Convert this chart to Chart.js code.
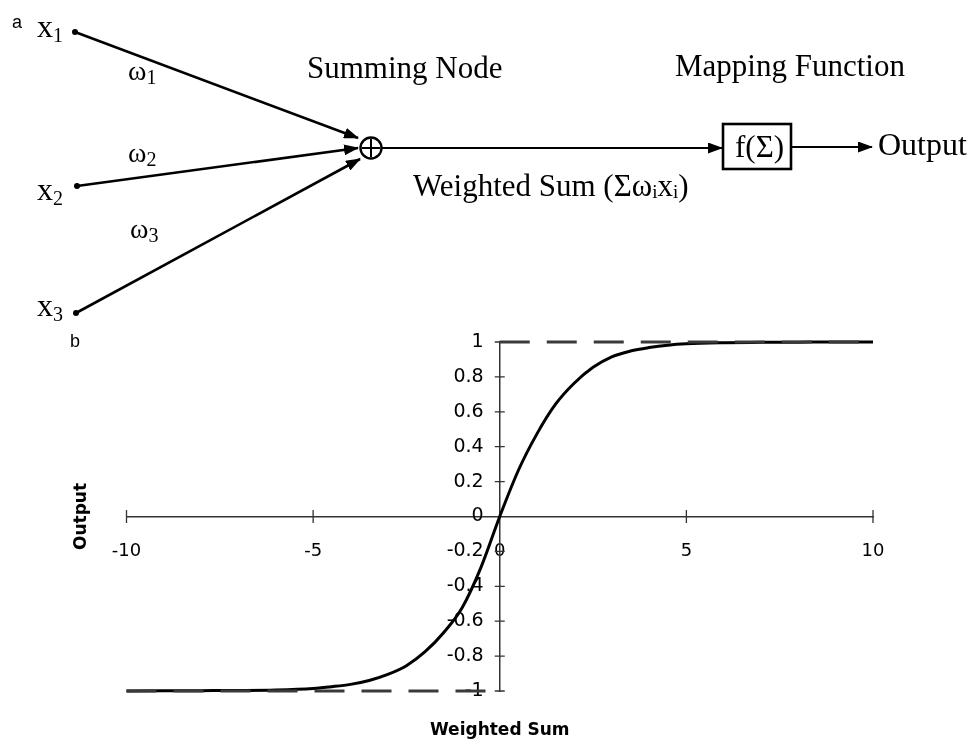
<!DOCTYPE html>
<html>
<head>
<meta charset="utf-8">
<script src="https://cdn.jsdelivr.net/npm/chart.js@4.4.1/dist/chart.umd.min.js"></script>
<style>
  html, body { margin: 0; padding: 0; background: #fff; }
  #wrap { position: relative; width: 969px; height: 744px; overflow: hidden; }
  #chart { position: absolute; left: 0; top: 0; }
  #diagram { position: absolute; left: 0; top: 0; pointer-events: none; }
</style>
</head>
<body>
<div id="wrap">
<canvas id="chart" width="969" height="744"></canvas>
<svg id="diagram" width="969" height="360" xmlns="http://www.w3.org/2000/svg">
  <defs>
    <marker id="ah" markerUnits="userSpaceOnUse" markerWidth="15" markerHeight="11" refX="14" refY="5.5" orient="auto">
      <path d="M0,0 L15,5.5 L0,11 z" fill="#000"/>
    </marker>
  </defs>
  <g stroke="#000" stroke-width="2.6" fill="none">
    <line x1="75" y1="32" x2="358" y2="138" marker-end="url(#ah)"/>
    <line x1="77" y1="186" x2="358" y2="148" marker-end="url(#ah)"/>
    <line x1="76" y1="313" x2="360" y2="159" marker-end="url(#ah)"/>
    <line x1="382" y1="148" x2="722" y2="148" stroke-width="2.2" marker-end="url(#ah)"/>
    <line x1="791" y1="147" x2="872" y2="147" stroke-width="2.2" marker-end="url(#ah)"/>
    <circle cx="371" cy="148" r="10.5" stroke-width="2.4"/>
    <line x1="371" y1="139" x2="371" y2="157" stroke-width="2"/>
    <line x1="362" y1="148" x2="380" y2="148" stroke-width="2"/>
    <rect x="723" y="124" width="68" height="45" stroke-width="2.6"/>
  </g>
  <g fill="#000">
    <circle cx="75" cy="32" r="3"/>
    <circle cx="77" cy="186" r="3"/>
    <circle cx="76" cy="313" r="3"/>
  </g>
  <g font-family="'Liberation Serif', 'Times New Roman', serif" fill="#000">
    <text x="37" y="37" font-size="32">x<tspan font-size="20" dy="5">1</tspan></text>
    <text x="37" y="200" font-size="32">x<tspan font-size="20" dy="5">2</tspan></text>
    <text x="37" y="316" font-size="32">x<tspan font-size="20" dy="5">3</tspan></text>
    <text x="128" y="80" font-size="28">ω<tspan font-size="20" dy="4">1</tspan></text>
    <text x="128" y="162" font-size="28">ω<tspan font-size="20" dy="4">2</tspan></text>
    <text x="130" y="238" font-size="28">ω<tspan font-size="20" dy="4">3</tspan></text>
    <text x="307" y="78" font-size="31">Summing Node</text>
    <text x="675" y="76" font-size="31">Mapping Function</text>
    <text x="413" y="196" font-size="31">Weighted Sum (Σω<tspan font-size="19" dy="2">i</tspan><tspan dy="-2">x</tspan><tspan font-size="19" dy="2">i</tspan><tspan dy="-2">)</tspan></text>
    <text x="735" y="157" font-size="31">f(Σ)</text>
    <text x="878" y="155" font-size="32">Output</text>
  </g>
  <g font-family="'Liberation Sans', Arial, sans-serif" fill="#000" font-size="18">
    <text x="12" y="28">a</text>
    <text x="70" y="347">b</text>
  </g>
</svg>
</div>
<script>
// ---- data ----
const sumValues = [-10, -9, -8, -7, -6, -5, -4.5, -4, -3.5, -3, -2.5, -2, -1.5, -1, -0.5, 0,
                   0.5, 1, 1.5, 2, 2.5, 3, 3.5, 4, 4.5, 5, 6, 7, 8, 9, 10];
const outputValues = [-1.000, -0.999, -0.998, -0.997, -0.994, -0.985, -0.975, -0.962, -0.940, -0.905,
                      -0.855, -0.775, -0.665, -0.520, -0.290, 0.000,
                      0.265, 0.475, 0.645, 0.765, 0.855, 0.915, 0.948, 0.968, 0.982, 0.990,
                      0.996, 0.998, 0.999, 1.000, 1.000];
const upperLimitX = [0, 10];
const upperLimitY = [1, 1];
const lowerLimitX = [-10, 0];
const lowerLimitY = [-1, -1];
const xTickValues = [-10, -5, 0, 5, 10];
const yTickValues = [-1, -0.8, -0.6, -0.4, -0.2, 0, 0.2, 0.4, 0.6, 0.8, 1];
const yTickLabels = ['-1', '-0.8', '-0.6', '-0.4', '-0.2', '0', '0.2', '0.4', '0.6', '0.8', '1'];
const xTitle = 'Weighted Sum';
const yTitle = 'Output';

const toPoints = (xs, ys) => xs.map((x, i) => ({ x: x, y: ys[i] }));

const crossTicks = {
  id: 'crossTicks',
  beforeDatasetsDraw(chart) {
    const { ctx } = chart;
    const xs = chart.scales.x, ys = chart.scales.y;
    const x0 = xs.getPixelForValue(0), y0 = ys.getPixelForValue(0);
    ctx.save();
    ctx.strokeStyle = '#333';
    ctx.lineWidth = 1.3;
    ctx.beginPath();
    xTickValues.forEach(v => {
      if (v === 0) return;
      const px = xs.getPixelForValue(v);
      ctx.moveTo(px, y0 - 6.5); ctx.lineTo(px, y0 + 6.5);
    });
    yTickValues.forEach(v => {
      if (v === 0) return;
      const py = ys.getPixelForValue(v);
      ctx.moveTo(x0 - 5, py); ctx.lineTo(x0 + 5, py);
    });
    ctx.stroke();
    ctx.restore();
  }
};

const axisTitles = {
  id: 'axisTitles',
  afterDraw(chart) {
    const { ctx, chartArea } = chart;
    const xs = chart.scales.x, ys = chart.scales.y;
    ctx.save();
    ctx.fillStyle = '#000';
    ctx.font = 'bold 17px "DejaVu Sans", Arial, sans-serif';
    ctx.textAlign = 'center';
    ctx.textBaseline = 'middle';
    ctx.fillText(xTitle, xs.getPixelForValue(0), chartArea.bottom + 40);
    ctx.translate(chartArea.left - 45, ys.getPixelForValue(0));
    ctx.rotate(-Math.PI / 2);
    ctx.fillText(yTitle, 0, 0);
    ctx.restore();
  }
};

const tickFont = { family: '"DejaVu Sans", Arial, sans-serif', size: 18 };

new Chart(document.getElementById('chart'), {
  type: 'line',
  data: {
    datasets: [
      {
        label: 'Upper limit',
        data: toPoints(upperLimitX, upperLimitY),
        borderColor: '#3a3a3a',
        borderWidth: 3,
        borderDash: [30, 17],
        pointRadius: 0,
        clip: false,
        fill: false
      },
      {
        label: 'Lower limit',
        data: toPoints(lowerLimitX, lowerLimitY),
        borderColor: '#3a3a3a',
        borderWidth: 3,
        borderDash: [30, 17],
        pointRadius: 0,
        clip: false,
        fill: false
      },
      {
        label: 'Output',
        data: toPoints(sumValues, outputValues),
        borderColor: '#000',
        borderWidth: 3,
        pointRadius: 0,
        cubicInterpolationMode: 'monotone',
        clip: false,
        fill: false
      }
    ]
  },
  options: {
    responsive: false,
    animation: false,
    devicePixelRatio: 1,
    layout: { padding: { left: 126.5, right: 96, top: 342, bottom: 53 } },
    plugins: {
      legend: { display: false },
      tooltip: { enabled: false },
      title: { display: false }
    },
    scales: {
      x: {
        type: 'linear',
        position: { y: 0 },
        min: -10,
        max: 10,
        afterFit(scale) { scale.height = 0; },
        afterBuildTicks(scale) { scale.ticks = xTickValues.map(v => ({ value: v })); },
        grid: { display: true, drawOnChartArea: false, drawTicks: false },
        border: { display: true, color: '#333', width: 1.5 },
        ticks: {
          color: '#000',
          padding: 24,
          font: tickFont,
          callback: (v) => String(v)
        }
      },
      y: {
        type: 'linear',
        position: { x: 0 },
        min: -1,
        max: 1,
        afterFit(scale) { scale.width = 0; },
        afterBuildTicks(scale) { scale.ticks = yTickValues.map(v => ({ value: v })); },
        grid: { display: true, drawOnChartArea: false, drawTicks: false },
        border: { display: true, color: '#333', width: 1.5 },
        ticks: { display: false }
      },
      yLabels: {
        type: 'linear',
        position: { x: -0.43 },
        min: -1,
        max: 1,
        afterFit(scale) { scale.width = 0; },
        afterBuildTicks(scale) { scale.ticks = yTickValues.map(v => ({ value: v })); },
        grid: { display: false, drawTicks: false },
        border: { display: false },
        ticks: {
          color: '#000',
          font: { family: '"DejaVu Sans", Arial, sans-serif', size: 19 },
          callback: (v) => yTickLabels[yTickValues.indexOf(Math.round(v * 10) / 10)]
        }
      }
    }
  },
  plugins: [crossTicks, axisTitles]
});
</script>
</body>
</html>
